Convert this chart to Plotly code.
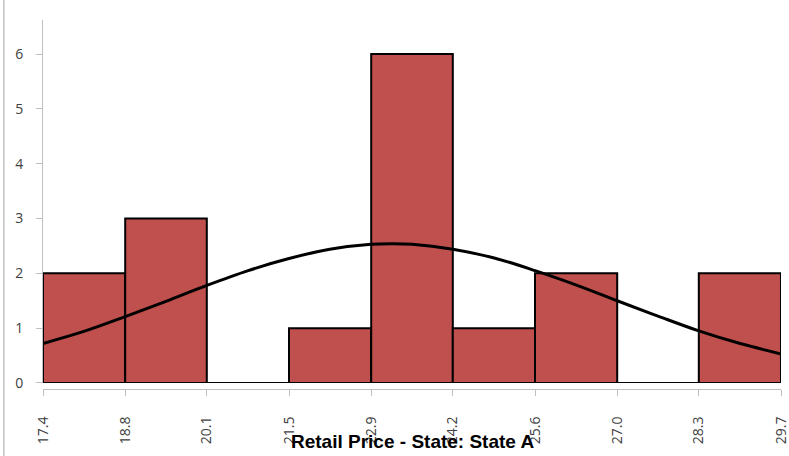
import plotly.graph_objects as go

# histogram bin edges (equal width), printed labels, counts
bin_edges = [17.4, 18.77, 20.13, 21.5, 22.87, 24.23, 25.6, 26.97, 28.33, 29.7]
edge_labels = ["17.4", "18.8", "20.1", "21.5", "22.9", "24.2", "25.6", "27.0", "28.3", "29.7"]
counts = [2, 3, 0, 1, 6, 1, 2, 0, 2]

# fitted normal curve
curve_x = [17.4, 18.08, 18.77, 19.45, 20.13, 20.82, 21.5, 22.18, 22.87, 23.22,
           23.55, 24.23, 24.92, 25.6, 26.28, 26.97, 27.65, 28.33, 29.02, 29.7]
curve_y = [0.72, 0.94, 1.21, 1.49, 1.78, 2.05, 2.27, 2.44, 2.53, 2.54,
           2.53, 2.44, 2.28, 2.05, 1.79, 1.50, 1.22, 0.95, 0.72, 0.53]

y_ticks = [0, 1, 2, 3, 4, 5, 6]

BAR_RED = "#C0504D"
AXIS_GREY = "#BFBFBF"
TEXT = "#404040"

mids = [(a + b) / 2 for a, b in zip(bin_edges[:-1], bin_edges[1:])]
widths = [b - a for a, b in zip(bin_edges[:-1], bin_edges[1:])]

fig = go.Figure()
fig.add_trace(go.Bar(
    x=mids, y=counts, width=widths,
    marker=dict(color=BAR_RED, line=dict(color="black", width=2)),
    hoverinfo="skip",
))
fig.add_trace(go.Scatter(
    x=curve_x, y=curve_y, mode="lines",
    line=dict(color="black", width=3, shape="spline"),
    hoverinfo="skip",
))

fig.update_layout(
    width=789, height=456,
    margin=dict(l=43, r=8, t=20, b=67),
    paper_bgcolor="white", plot_bgcolor="white",
    showlegend=False,
    font=dict(family="Open Sans, sans-serif", color=TEXT, size=14),
    xaxis=dict(
        range=[bin_edges[0], bin_edges[-1]],
        anchor="free", position=0,
        tickmode="array", tickvals=bin_edges, ticktext=edge_labels,
        tickangle=-90, ticks="outside", ticklen=6, tickcolor=AXIS_GREY,
        ticklabelstandoff=15, ticklabeloverflow="allow",
        showline=True, linecolor=AXIS_GREY, linewidth=1,
        showgrid=False, zeroline=False, automargin=False,
        tickfont=dict(family="Open Sans, sans-serif", size=14, color=TEXT),
    ),
    yaxis=dict(
        domain=[0.0163, 1],
        range=[0, 6.62],
        tickmode="array", tickvals=y_ticks,
        ticks="outside", ticklen=6, tickcolor=AXIS_GREY,
        ticklabelstandoff=10,
        showline=True, linecolor=AXIS_GREY, linewidth=1,
        showgrid=False, zeroline=False, automargin=False,
        tickfont=dict(family="Open Sans, sans-serif", size=14, color=TEXT),
    ),
    annotations=[dict(
        text="<b>Retail Price - State: State A</b>",
        x=0.5, xref="paper", y=0, yref="paper",
        xanchor="center", yanchor="top", yshift=-40,
        showarrow=False,
        font=dict(family="Arial, Liberation Sans, sans-serif", size=19, color="black"),
    )],
    shapes=[dict(
        type="line", xref="paper", yref="paper",
        x0=-0.053, x1=-0.053, y0=-0.2, y1=1.1,
        line=dict(color="#A6A6A6", width=1),
    )],
)

fig.write_html(
    "out.html",
    config={"displayModeBar": False},
    post_script="document.body.style.margin='0';",
)
